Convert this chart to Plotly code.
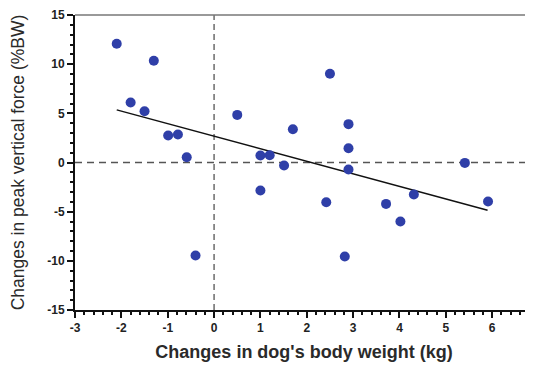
import plotly.graph_objects as go

weight_change = [-2.1, -1.3, -1.8, -1.5, -0.99, -0.78, -0.59, -0.4, 0.5, 1.0, 1.2, 1.0,
                 1.51, 1.7, 2.5, 2.9, 2.9, 2.9, 2.42, 2.82, 3.71, 4.02, 4.31, 5.41, 5.91]
force_change = [12.07, 10.34, 6.10, 5.22, 2.75, 2.85, 0.54, -9.46, 4.84, 0.71, 0.74, -2.85,
                -0.31, 3.39, 9.02, 3.90, 1.45, -0.72, -4.04, -9.56, -4.21, -6.0, -3.26, -0.04, -3.97]
fit_x = [-2.1, 5.9]
fit_y = [5.35, -4.85]

x_ticks = [-3, -2, -1, 0, 1, 2, 3, 4, 5, 6]
x_labels = ["-3", "-2", "-1", "0", "1", "2", "3", "4", "5", "6"]
y_ticks = [-15, -10, -5, 0, 5, 10, 15]
y_labels = ["-15", "-10", "-5", "0", "5", "10", "15"]

fig = go.Figure()
fig.add_trace(go.Scatter(x=fit_x, y=fit_y, mode="lines",
                         line=dict(color="#111111", width=1.5), hoverinfo="skip"))
fig.add_trace(go.Scatter(x=weight_change, y=force_change, mode="markers",
                         marker=dict(color="#2f3fa8", size=10, line=dict(width=0))))

# reference lines
fig.add_shape(type="line", xref="x", yref="paper", x0=0, x1=0, y0=0, y1=1,
              line=dict(color="#555555", width=1.3, dash="6px,4px"), layer="below")
fig.add_shape(type="line", xref="paper", yref="y", x0=0, x1=1, y0=0, y1=0,
              line=dict(color="#555555", width=1.3, dash="7px,5px"), layer="below")
# top border
fig.add_shape(type="line", xref="paper", yref="paper", x0=0, x1=1, y0=1, y1=1,
              line=dict(color="#777777", width=1.5))

font_family = "Liberation Sans, Arial, sans-serif"
# page body has an 8px default margin, so the figure is sized to fit the window
fig.update_layout(
    width=525, height=357,
    margin=dict(l=67, r=0, t=7, b=55),
    plot_bgcolor="white", paper_bgcolor="white",
    showlegend=False,
    font=dict(family=font_family, color="#222222"),
    xaxis=dict(
        range=[-3, 6.88], tickvals=x_ticks, ticktext=x_labels,
        showgrid=False, zeroline=False, automargin=False,
        showline=True, linecolor="#111111", linewidth=2,
        ticks="outside", ticklen=6, tickwidth=2, tickcolor="#111111",
        tickfont=dict(size=12, weight="bold", color="#222222"),
        minor=dict(dtick=0.2, ticks="outside", ticklen=3, tickwidth=1.5, tickcolor="#111111"),
        title=dict(text="Changes in dog's body weight (kg)",
                   font=dict(size=18, weight="bold", color="#2a2a2a"), standoff=11),
    ),
    yaxis=dict(
        range=[-15, 15], tickvals=y_ticks, ticktext=y_labels,
        showgrid=False, zeroline=False, automargin=False,
        showline=True, linecolor="#111111", linewidth=2,
        ticks="outside", ticklen=6, tickwidth=2, tickcolor="#111111",
        tickfont=dict(size=12, weight="bold", color="#222222"),
        minor=dict(dtick=1, ticks="outside", ticklen=3, tickwidth=1.5, tickcolor="#111111"),
        title=dict(text="Changes in peak vertical force (%BW)",
                   font=dict(size=17.5, color="#2a2a2a"), standoff=19),
    ),
)

fig.write_html("out.html")
